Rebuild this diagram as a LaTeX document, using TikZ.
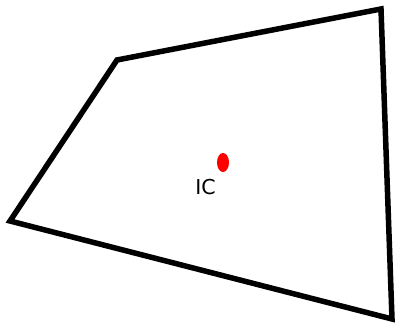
\documentclass[tikz,border=0pt]{standalone}
\usepackage{fontspec}
\setmainfont{DejaVu Sans}
\begin{document}
\begin{tikzpicture}[x=1pt,y=1pt,
  edge/.style={line width=5.5pt, line join=miter, draw=black},
  lbl/.style={font=\fontsize{20.5}{22}\selectfont, inner sep=0pt}]
\useasboundingbox (0,0) rectangle (395,331);
\coordinate (A) at (10,110);
\coordinate (B) at (117,271);
\coordinate (C) at (381,322);
\coordinate (D) at (392,12);
\draw[edge] (A) -- (B) -- (C) -- (D) -- cycle;
\fill[red] (223,168.5) ellipse [x radius=6pt, y radius=9.5pt];
\node[lbl] (ic) at (205.5,144) {IC};
\end{tikzpicture}
\end{document}
